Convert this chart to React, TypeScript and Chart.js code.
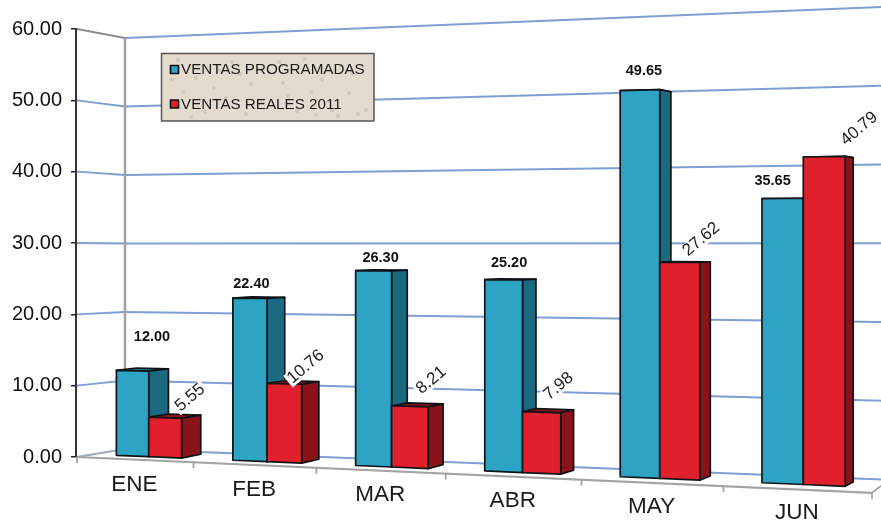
import React, { useEffect, useRef } from "react";
import { Chart, registerables } from "chart.js";

Chart.register(...registerables);

const categories = ["ENE", "FEB", "MAR", "ABR", "MAY", "JUN"];
const ventasProgramadas = [12.0, 22.4, 26.3, 25.2, 49.65, 35.65];
const ventasReales = [5.55, 10.76, 8.21, 7.98, 27.62, 40.79];
const seriesNames = ["VENTAS PROGRAMADAS", "VENTAS REALES 2011"];

const programadasLabelOffsets = [[19.5, -34], [1.5, -14], [7, -13], [5.5, -17], [4, -19], [-10, -17]];
const realesLabelOffsets = [[25, -21], [21.5, -18], [21.5, -27], [17, -27], [21.5, -24], [35, -29]];

const speckles = [
  [178, 60], [196, 78], [214, 88], [232, 62], [251, 84], [269, 72], [288, 96], [305, 59], [322, 80], [341, 66],
  [183, 92], [205, 112], [226, 98], [246, 114], [262, 103], [279, 62], [297, 111], [316, 115], [332, 110], [358, 114],
  [366, 110], [349, 93], [172, 80], [191, 117], [240, 74], [311, 92], [352, 73], [219, 70], [283, 83], [338, 116],
];

const FONT = '"Liberation Sans", Arial, sans-serif';
const BLUE = "#2DA4C4";
const BLUE_SIDE = "#1C6A80";
const RED = "#E0202C";
const RED_SIDE = "#8A1219";
const GRID = "#7F9FD2";
const FLOOR = "#A3A3A3";
const VP = { x: 1327, y: 230 };
const T_FRONT = 0.012;
const T_BACK = 0.0285;

function warpX(chart: any, px: number) {
  const a = chart.chartArea;
  const u = ((px - a.left) / (a.right - a.left)) * 6;
  return 77 + 113.3 * u + 3.2 * u * u;
}
function floorY(X: number) {
  return 457 + 0.0425 * (X - 77);
}
function project(chart: any, px: number, v: number, t: number) {
  const X = warpX(chart, px);
  const zero = chart.scales.y.getPixelForValue(0);
  const unit = zero - chart.scales.y.getPixelForValue(1);
  const k = unit + 0.00138 * (X - 77);
  const Y = floorY(X) - v * k;
  return { x: X + t * (VP.x - X), y: Y + t * (VP.y - Y) };
}
function backWall(x: number, v: number) {
  const f = (x - 125) / (881 - 125);
  const y125 = 449 - v * 6.85;
  const y881 = 479.5 - v * 7.875;
  return y125 + (y881 - y125) * f;
}
function poly(ctx: any, pts: any[], fill: string) {
  ctx.beginPath();
  pts.forEach((p, i) => (i ? ctx.lineTo(p.x, p.y) : ctx.moveTo(p.x, p.y)));
  ctx.closePath();
  ctx.fillStyle = fill;
  ctx.fill();
  ctx.lineWidth = 1.7;
  ctx.strokeStyle = "#101418";
  ctx.lineJoin = "round";
  ctx.stroke();
}
function line(ctx: any, x1: number, y1: number, x2: number, y2: number, color: string, w: number) {
  ctx.beginPath();
  ctx.moveTo(x1, y1);
  ctx.lineTo(x2, y2);
  ctx.strokeStyle = color;
  ctx.lineWidth = w;
  ctx.stroke();
}

const perspectivePlugin = {
  id: "perspective",
  beforeDatasetsDraw(chart: any) {
    const ctx = chart.ctx;
    const yScale = chart.scales.y;
    ctx.save();
    // walls
    yScale.ticks.forEach((tick: any) => {
      const v = tick.value;
      const py = yScale.getPixelForValue(v);
      line(ctx, 77, py, 125, backWall(125, v), v === 60 ? "#8C8C8C" : v === 0 ? "#9CA8BC" : GRID, 1.8);
      line(ctx, 125, backWall(125, v), 881, backWall(881, v), GRID, 1.8);
    });
    line(ctx, 125, backWall(125, 60), 125, backWall(125, 0), "#A0A0A0", 2.5);
    // floor
    line(ctx, 77, floorY(77), 872, floorY(872) + 2, FLOOR, 2.2);
    line(ctx, 872, floorY(872) + 2, 881, floorY(872) - 5, FLOOR, 1.8);
    for (let i = 0; i <= 6; i++) {
      const X = 77 + 113.3 * i + 3.2 * i * i;
      const y0 = floorY(X) + (i === 6 ? 2 : i * 0.3);
      line(ctx, X, y0, X, y0 + 6, FLOOR, 1.8);
    }
    // bars
    const drawBars = (dsIndex: number, front: string, side: string) => {
      const meta = chart.getDatasetMeta(dsIndex);
      meta.data.forEach((el: any, i: number) => {
        const v = chart.data.datasets[dsIndex].data[i];
        const l = el.x - el.width / 2;
        const r = el.x + el.width / 2;
        const fl0 = project(chart, l, 0, T_FRONT);
        const fr0 = project(chart, r, 0, T_FRONT);
        const flv = project(chart, l, v, T_FRONT);
        const frv = project(chart, r, v, T_FRONT);
        const br0 = project(chart, r, 0, T_BACK);
        const brv = project(chart, r, v, T_BACK);
        const blv = project(chart, l, v, T_BACK);
        poly(ctx, [flv, frv, brv, blv], side);
        poly(ctx, [fr0, frv, brv, br0], side);
        poly(ctx, [fl0, fr0, frv, flv], front);
      });
    };
    drawBars(0, BLUE, BLUE_SIDE);
    drawBars(1, RED, RED_SIDE);
    // value labels
    ctx.textAlign = "center";
    ctx.textBaseline = "middle";
    chart.getDatasetMeta(0).data.forEach((el: any, i: number) => {
      const p = project(chart, el.x, ventasProgramadas[i], T_FRONT);
      const [dx, dy] = programadasLabelOffsets[i];
      ctx.font = `bold 14.5px ${FONT}`;
      ctx.fillStyle = "#111";
      ctx.fillText(ventasProgramadas[i].toFixed(2), p.x + dx, p.y + dy);
    });
    chart.getDatasetMeta(1).data.forEach((el: any, i: number) => {
      const p = project(chart, el.x, ventasReales[i], T_FRONT);
      const [dx, dy] = realesLabelOffsets[i];
      const text = ventasReales[i].toFixed(2);
      ctx.save();
      ctx.translate(p.x + dx, p.y + dy + 1);
      ctx.rotate((-40 * Math.PI) / 180);
      ctx.font = `17px ${FONT}`;
      const w = ctx.measureText(text).width;
      ctx.fillStyle = "#FFFFFF";
      ctx.fillRect(-w / 2 - 2, -7.5, w + 4, 15);
      ctx.fillStyle = "#222";
      ctx.fillText(text, 0, 0);
      ctx.restore();
    });
    // category labels
    ctx.font = `22.5px ${FONT}`;
    ctx.fillStyle = "#1A1A1A";
    categories.forEach((c, i) => {
      const X = 77 + 113.3 * (i + 0.5) + 3.2 * (i + 0.5) * (i + 0.5);
      ctx.fillText(c, X, floorY(X) + 25);
    });
    // legend
    ctx.fillStyle = "#E3DBCE";
    ctx.fillRect(161.5, 53.5, 212.5, 67.5);
    speckles.forEach(([x, y]) => {
      ctx.fillStyle = "rgba(170,155,135,0.3)";
      ctx.beginPath();
      ctx.arc(x, y, 2, 0, Math.PI * 2);
      ctx.fill();
    });
    ctx.strokeStyle = "#555";
    ctx.lineWidth = 1.5;
    ctx.strokeRect(161.5, 53.5, 212.5, 67.5);
    ctx.textAlign = "left";
    ctx.font = `15.2px ${FONT}`;
    seriesNames.forEach((name, i) => {
      const y = 69.5 + i * 34.5;
      ctx.fillStyle = i ? RED : BLUE;
      ctx.fillRect(170.5, y - 4, 8, 8);
      ctx.strokeStyle = "#111";
      ctx.lineWidth = 1.7;
      ctx.strokeRect(170.5, y - 4, 8, 8);
      ctx.fillStyle = "#1A1A1A";
      ctx.fillText(name, 181, y + 0.5);
    });
    ctx.restore();
    return false;
  },
};

export default function App() {
  const ref = useRef<HTMLCanvasElement>(null);
  useEffect(() => {
    const chart = new Chart(ref.current as HTMLCanvasElement, {
      type: "bar",
      data: {
        labels: categories,
        datasets: [
          { label: seriesNames[0], data: ventasProgramadas, backgroundColor: BLUE },
          { label: seriesNames[1], data: ventasReales, backgroundColor: RED },
        ],
      },
      options: {
        responsive: false,
        animation: false,
        layout: { padding: { top: 29, bottom: 64, left: 0, right: 0 } },
        plugins: { legend: { display: false }, tooltip: { enabled: false } },
        datasets: { bar: { categoryPercentage: 0.567, barPercentage: 1 } },
        scales: {
          x: { display: false },
          y: {
            min: 0,
            max: 60,
            afterFit(scale: any) {
              scale.width = 76;
            },
            ticks: {
              stepSize: 10,
              padding: 9,
              color: "#111",
              font: { family: FONT, size: 20 },
              callback: (v: any) => Number(v).toFixed(2),
            },
            grid: { drawOnChartArea: false, drawTicks: true, tickLength: 5, color: "#222", lineWidth: 1.5 },
            border: { display: true, color: "#333", width: 2 },
          },
        },
      },
      plugins: [perspectivePlugin],
    } as any);
    return () => chart.destroy();
  }, []);
  return (
    <div style={{ position: "fixed", left: 0, top: 0, width: 881, height: 521, background: "#fff" }}>
      <canvas ref={ref} width={881} height={521} style={{ display: "block" }} />
    </div>
  );
}
